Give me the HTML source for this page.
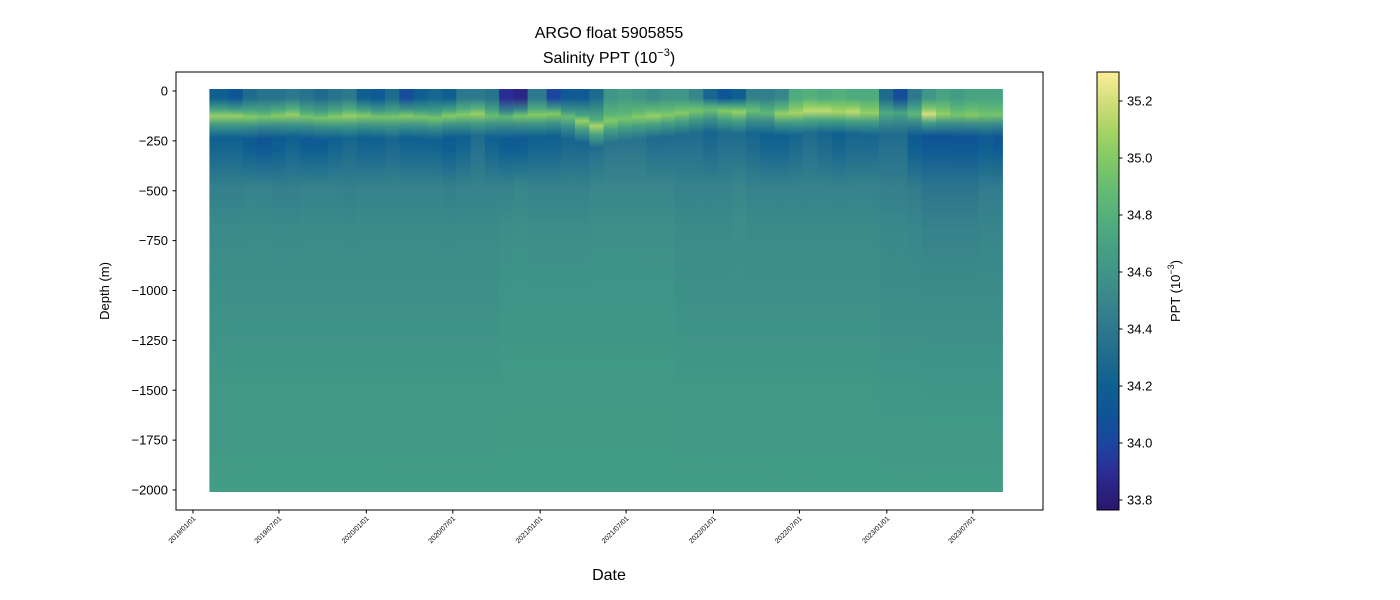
<!DOCTYPE html>
<html><head><meta charset="utf-8">
<style>
body{margin:0;background:#fff;}
svg{display:block;font-family:"Liberation Sans","DejaVu Sans",sans-serif;}
</style></head>
<body>
<svg id="chart" width="1400" height="600" viewBox="0 0 1400 600">
<defs id="defs"></defs>
<text x="609" y="38" font-size="16" text-anchor="middle">ARGO float 5905855</text>
<text x="609" y="63" font-size="16" text-anchor="middle">Salinity PPT (10<tspan dy="-7" font-size="11">−3</tspan><tspan dy="7">)</tspan></text>
<g id="profiles"></g>
<rect x="176" y="72" width="867" height="438" fill="none" stroke="#000" stroke-width="1"/>
<g id="yaxis"></g>
<g id="xaxis"></g>
<text transform="translate(109,291) rotate(-90)" font-size="13" text-anchor="middle">Depth (m)</text>
<text x="609" y="580" font-size="16" text-anchor="middle">Date</text>
<g id="cbar"></g>
<text transform="translate(1180,291) rotate(-90)" font-size="13" text-anchor="middle">PPT (10<tspan dy="-6" font-size="9">−3</tspan><tspan dy="6">)</tspan></text>
</svg>
<script>
// monthly bins from 2019-02 to 2023-09
const surf = [34.2,34.1,34.3,34.35,34.35,34.4,34.35,34.3,34.35,34.4,34.2,34.15,34.3,34.05,34.2,34.25,34.2,34.4,34.4,34.35,33.9,33.85,34.4,34.0,34.15,34.15,34.3,34.6,34.65,34.6,34.55,34.6,34.6,34.5,34.25,34.1,34.2,34.45,34.45,34.5,34.75,34.8,34.75,34.8,34.75,34.75,34.3,34.05,34.4,34.6,34.7,34.65,34.7,34.7,34.7,34.75];
const core = [35.05,35.05,35.0,34.95,35.0,35.05,34.95,34.95,35.0,35.05,35.0,34.95,34.95,35.0,34.95,34.95,35.0,35.0,35.05,34.9,34.85,34.95,35.0,35.0,34.9,35.05,35.1,35.0,34.95,35.0,35.05,35.0,35.0,34.95,34.9,35.0,35.05,34.9,34.85,35.05,35.1,35.15,35.15,35.1,35.15,35.05,34.75,34.7,34.85,35.2,35.05,34.95,35.0,34.95,34.95,35.0];
const coreDepth = [-125,-125,-130,-130,-125,-120,-130,-135,-130,-125,-125,-130,-130,-125,-130,-135,-125,-120,-115,-125,-130,-125,-120,-115,-130,-150,-175,-150,-140,-130,-125,-120,-110,-100,-95,-100,-105,-100,-110,-115,-110,-100,-100,-105,-105,-110,-110,-110,-115,-115,-115,-120,-120,-120,-120,-125];
const sub = [34.2,34.2,34.15,34.1,34.15,34.2,34.15,34.15,34.2,34.25,34.2,34.2,34.25,34.2,34.2,34.2,34.15,34.2,34.3,34.2,34.15,34.15,34.2,34.2,34.25,34.25,34.3,34.35,34.35,34.35,34.3,34.3,34.3,34.3,34.25,34.3,34.3,34.25,34.2,34.2,34.25,34.3,34.25,34.2,34.25,34.25,34.3,34.3,34.15,34.1,34.1,34.1,34.1,34.15,34.1,34.15];
const mid = [34.45,34.45,34.47,34.47,34.45,34.45,34.47,34.47,34.47,34.45,34.47,34.47,34.47,34.47,34.47,34.47,34.45,34.47,34.47,34.47,34.47,34.5,34.47,34.47,34.47,34.47,34.5,34.5,34.5,34.5,34.5,34.5,34.47,34.47,34.47,34.47,34.5,34.47,34.47,34.47,34.47,34.47,34.47,34.47,34.47,34.47,34.45,34.45,34.42,34.38,34.38,34.38,34.38,34.42,34.42,34.42];
const deep1 = [34.57,34.57,34.57,34.57,34.57,34.57,34.57,34.57,34.57,34.57,34.57,34.57,34.57,34.57,34.57,34.57,34.57,34.57,34.57,34.57,34.59,34.59,34.59,34.59,34.59,34.59,34.59,34.59,34.59,34.59,34.59,34.59,34.57,34.57,34.57,34.57,34.57,34.57,34.57,34.57,34.57,34.57,34.57,34.57,34.57,34.57,34.55,34.55,34.55,34.54,34.54,34.54,34.54,34.54,34.54,34.54];
const deep2 = Array(56).fill(34.65);
const yTicks = [0,-250,-500,-750,-1000,-1250,-1500,-1750,-2000];
const xTickLabels = ["2019/01/01","2019/07/01","2020/01/01","2020/07/01","2021/01/01","2021/07/01","2022/01/01","2022/07/01","2023/01/01","2023/07/01"];
const cTicks = [33.8,34.0,34.2,34.4,34.6,34.8,35.0,35.2];
const firstProfileDay = 40, lastProfileDay = 1709, cycleDays = 10;

const NS="http://www.w3.org/2000/svg";
const T0=Date.UTC(2019,0,1);
const xs=d=>193+d*0.4749;
const ys=v=>91+v*(-399/2000);
const cy=v=>500-(v-33.8)/0.2*57;
const cmap=[[33.77,"#2a186c"],[33.9,"#2b2d96"],[34.0,"#1b46a0"],[34.1,"#0f5496"],[34.2,"#0f6091"],[34.3,"#1f6b8e"],[34.4,"#2e788d"],[34.5,"#38868b"],[34.6,"#3f9587"],[34.7,"#47a382"],[34.8,"#54b07b"],[34.9,"#68bd71"],[35.0,"#83c965"],[35.1,"#a8d464"],[35.2,"#d2de7a"],[35.3,"#fdee99"]];
function hex(h){return [1,3,5].map(i=>parseInt(h.substr(i,2),16));}
function color(v){
  if(v<=cmap[0][0])return cmap[0][1];
  for(let i=1;i<cmap.length;i++){if(v<=cmap[i][0]){const a=hex(cmap[i-1][1]),b=hex(cmap[i][1]);const t=(v-cmap[i-1][0])/(cmap[i][0]-cmap[i-1][0]);return "rgb("+a.map((c,k)=>Math.round(c+(b[k]-c)*t)).join(",")+")";}}
  return cmap[cmap.length-1][1];
}
function el(tag,attrs,parent){const e=document.createElementNS(NS,tag);for(const k in attrs)e.setAttribute(k,attrs[k]);parent.appendChild(e);return e;}
const defs=document.getElementById("defs"), prof=document.getElementById("profiles");
let n=0;
for(let d=firstProfileDay; d<=lastProfileDay; d+=cycleDays){
  const m=Math.min(55,Math.floor((d-firstProfileDay)/30.44));
  const cd=coreDepth[m];
  const levels=[[0,surf[m]],[-35,surf[m]],[cd+30,surf[m]*0.4+core[m]*0.6],[cd,core[m]],[cd-45,(core[m]+sub[m])/2],[cd-110,sub[m]],[-260+cd*0.3,sub[m]+0.05],[-480,mid[m]],[-700,(mid[m]+deep1[m])/2+0.02],[-1000,deep1[m]],[-1500,(deep1[m]+deep2[m])/2+0.01],[-2000,deep2[m]]];
  const g=el("linearGradient",{id:"g"+n,gradientUnits:"userSpaceOnUse",x1:0,x2:0,y1:ys(0),y2:ys(-2000)},defs);
  levels.forEach(([dep,v])=>el("stop",{offset:(dep/-2000).toFixed(4),"stop-color":color(v)},g));
  const r=el("rect",{x:(xs(d)-2.6).toFixed(2),y:ys(0)-2,width:5.2,height:ys(-2000)-ys(0)+4,fill:"url(#g"+n+")"},prof);
  
  
  n++;
}
const ya=document.getElementById("yaxis");
yTicks.forEach(v=>{
  const y=ys(v);
  const l=el("line",{x1:172.5,x2:176,y1:y,y2:y,stroke:"#000"},ya);
  
  
  const t=el("text",{x:168,y:y+4.5,"font-size":13,"text-anchor":"end"},ya);
  t.textContent=v===0?"0":"−"+Math.abs(v);
  
  
});
const xa=document.getElementById("xaxis");
xTickLabels.forEach(s=>{
  const p=s.split("/").map(Number);
  const d=(Date.UTC(p[0],p[1]-1,p[2])-T0)/86400000;
  const x=xs(d);
  const l=el("line",{x1:x,x2:x,y1:510,y2:513.5,stroke:"#000"},xa);
  
  
  const t=el("text",{transform:"translate("+(x+3)+",519) rotate(-45)","font-size":7,"text-anchor":"end"},xa);
  t.textContent=s;
  
  
});
const cb=document.getElementById("cbar");
const cg=el("linearGradient",{id:"cbg",gradientUnits:"userSpaceOnUse",x1:0,x2:0,y1:cy(35.3),y2:cy(33.765)},defs);
cmap.slice().reverse().forEach(([v,c])=>el("stop",{offset:((cy(v)-cy(35.3))/(cy(33.765)-cy(35.3))).toFixed(4),"stop-color":c},cg));
const cr=el("rect",{x:1097,y:72,width:22,height:438,fill:"url(#cbg)",stroke:"#000","stroke-width":1},cb);


cTicks.forEach(v=>{
  const y=cy(v);
  const l=el("line",{x1:1119,x2:1122.5,y1:y,y2:y,stroke:"#000"},cb);
  
  
  const t=el("text",{x:1127,y:y+4.5,"font-size":13},cb);
  t.textContent=v.toFixed(1);
  
  
});
</script>
</body></html>
